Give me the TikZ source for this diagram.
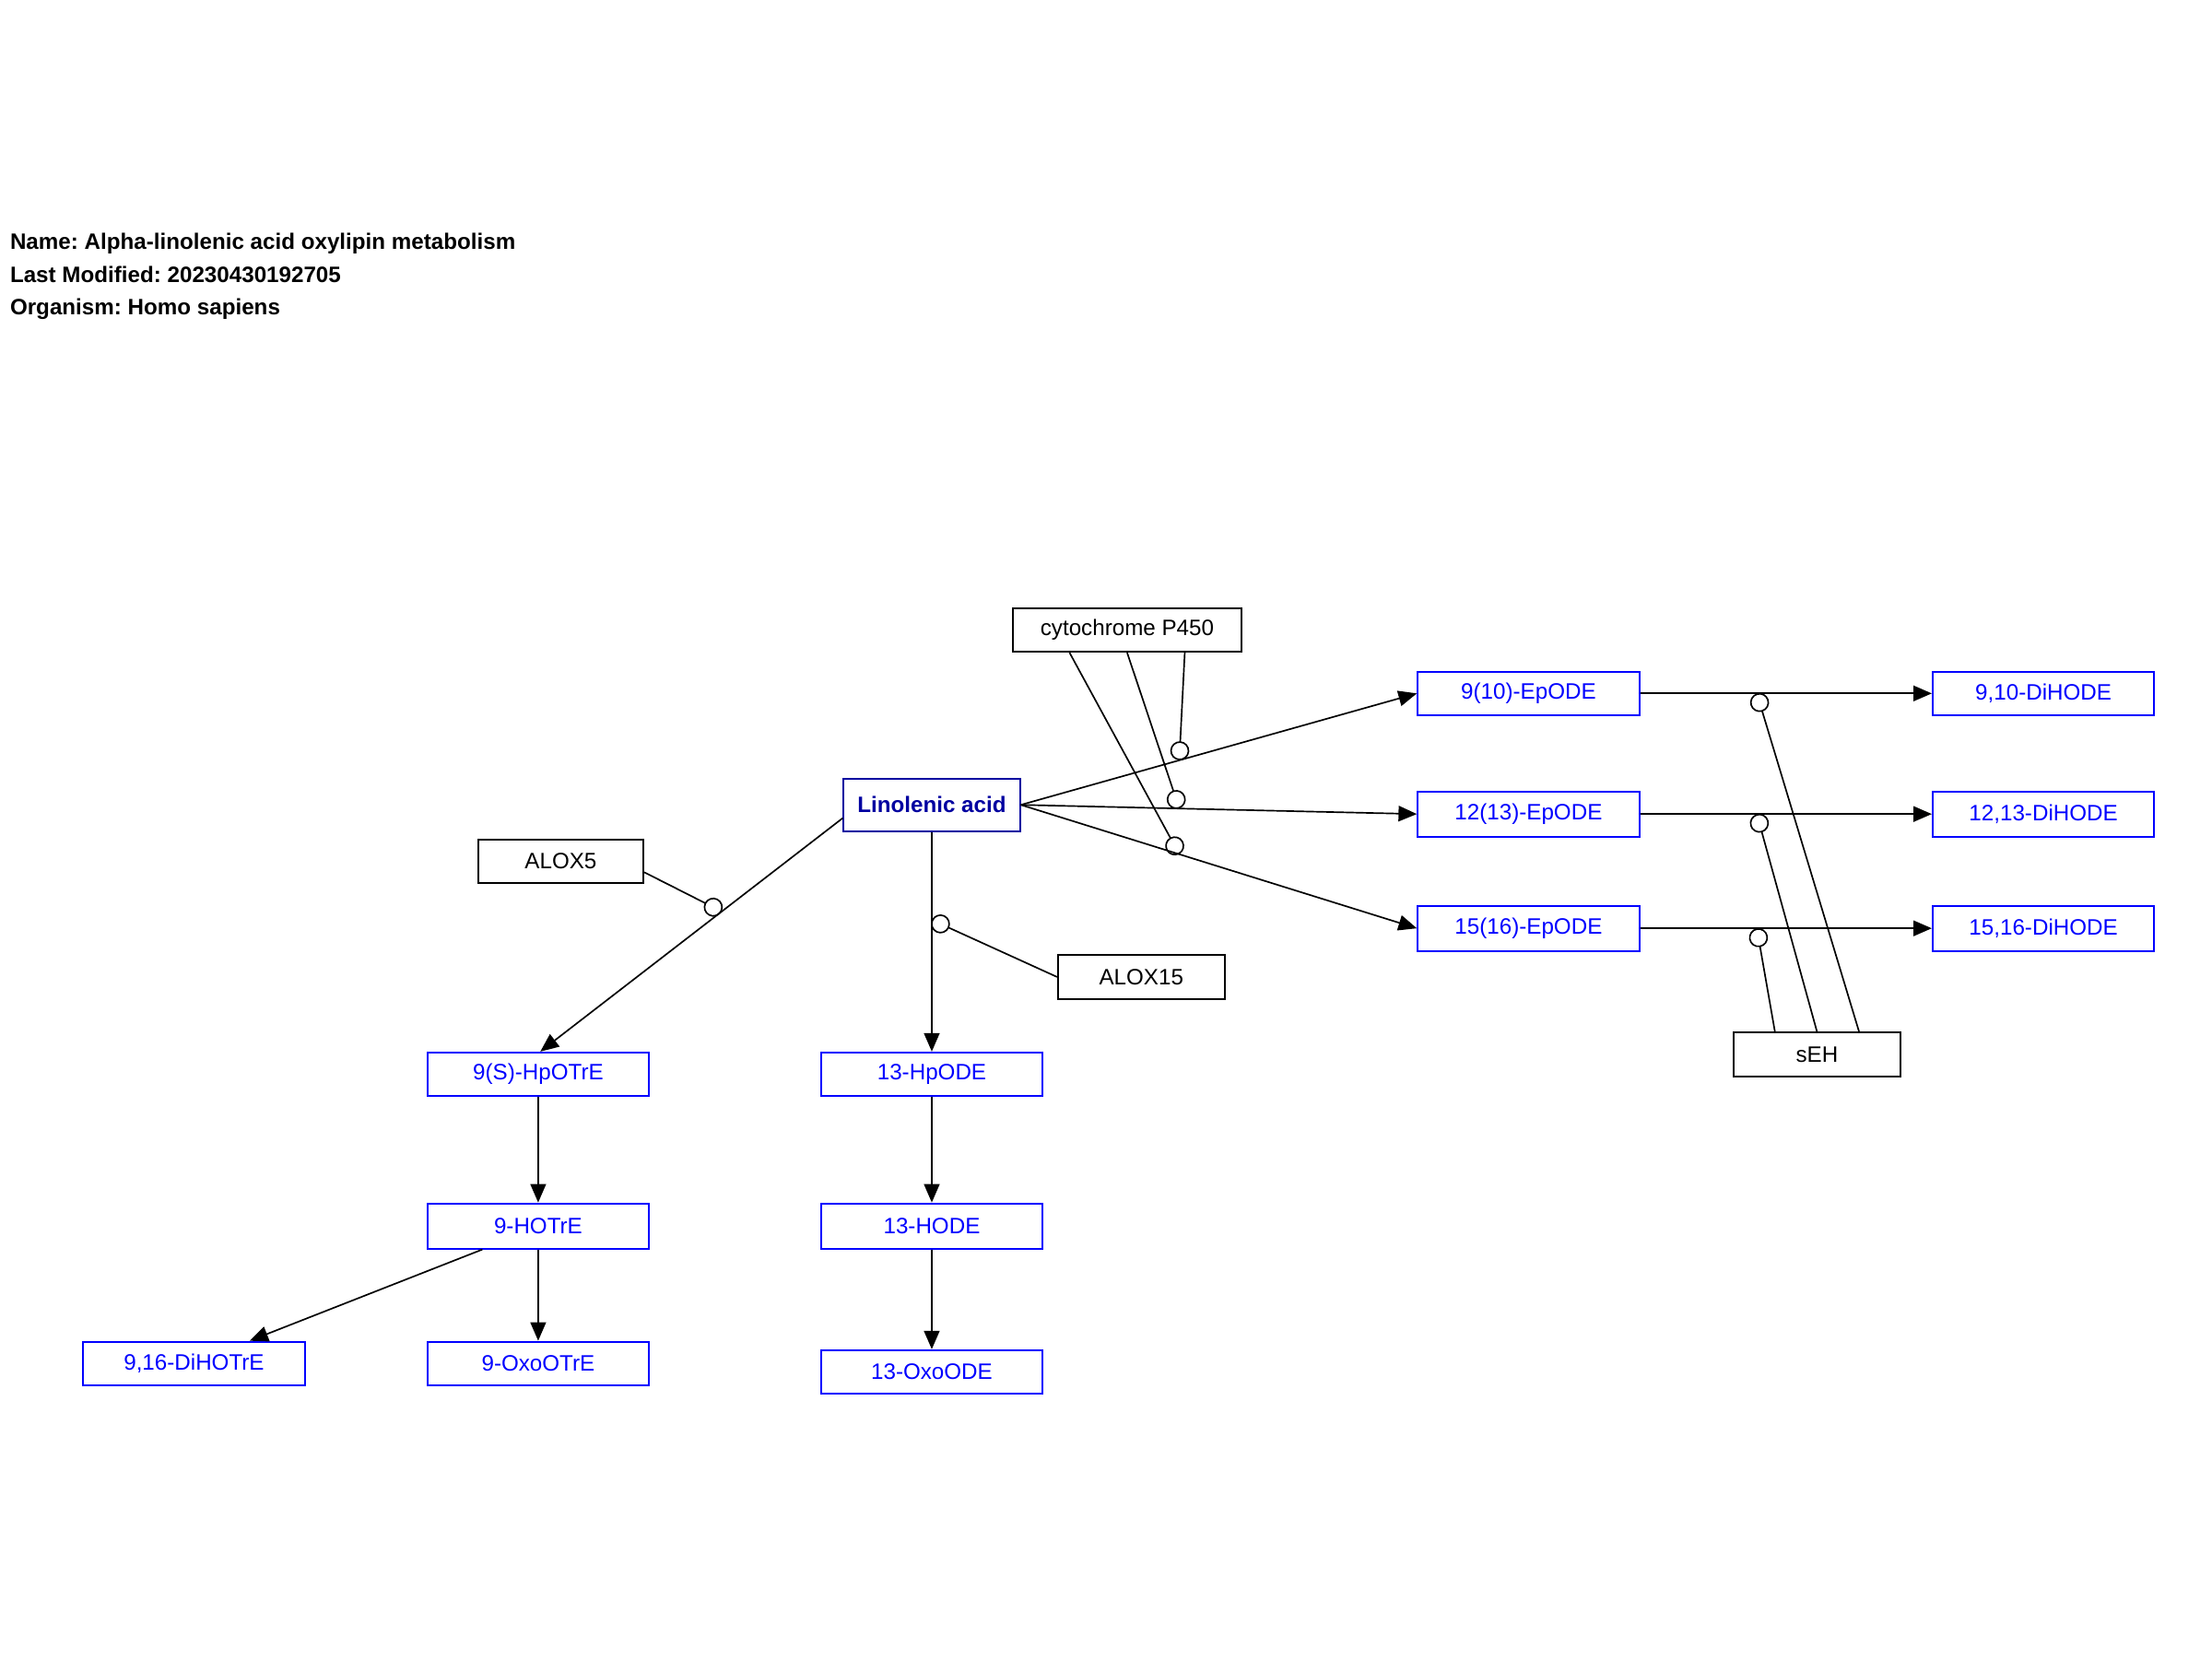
\documentclass[tikz,border=0pt]{standalone}
\usepackage{fontspec}
\setmainfont{Liberation Sans}
\usetikzlibrary{arrows.meta,calc}
\definecolor{mblue}{RGB}{0,0,255}
\definecolor{dblue}{RGB}{0,0,160}
\frenchspacing
\begin{document}
\begin{tikzpicture}[x=1pt,y=-1pt,
  box/.style={draw,line width=1.3pt,minimum width=157pt,minimum height=31pt,inner sep=0pt,
    font=\fontsize{15.8}{18}\selectfont},
  metab/.style={box,draw=mblue,text=mblue},
  gene/.style={box,draw=black,text=black,minimum width=117pt},
  conv/.style={line width=1.1pt,-{Triangle[length=13pt,width=11pt]}},
  cat/.style={line width=1.1pt,-{Circle[open,length=13.5pt,width=13.5pt]}},
  info/.style={anchor=base west,inner sep=0pt,font=\fontsize{15.8}{18}\selectfont\bfseries}]
\useasboundingbox (0,0) rectangle (1568,1176);
% header
\node[info] (t1) at (7,176.8) {Name: Alpha-linolenic acid oxylipin metabolism};
\node[info] (t2) at (7,200) {Last Modified: 20230430192705};
\node[info] (t3) at (7,223.2) {Organism: Homo sapiens};
% nodes
\node[gene,minimum width=162pt] (cyp) at (799,446.5) {cytochrome P450};
\node[metab] (ep9) at (1083.5,491.5) {9(10)-EpODE};
\node[metab] (di9) at (1448.5,491.5) {9,10-DiHODE};
\node[box,draw=dblue,text=dblue,minimum width=125pt,minimum height=37.5pt,font=\fontsize{15.8}{18}\selectfont\bfseries] (lin) at (660.5,570.5) {Linolenic acid};
\node[metab,minimum height=32pt] (ep12) at (1083.5,577) {12(13)-EpODE};
\node[metab,minimum height=32pt] (di12) at (1448.5,577) {12,13-DiHODE};
\node[gene] (alox5) at (397.5,610.5) {ALOX5};
\node[metab,minimum height=32pt] (ep15) at (1083.5,658) {15(16)-EpODE};
\node[metab,minimum height=32pt] (di15) at (1448.5,658) {15,16-DiHODE};
\node[gene,minimum width=118pt] (alox15) at (809,692.5) {ALOX15};
\node[gene,minimum width=118pt] (seh) at (1288,747.5) {sEH};
\node[metab] (hpotre) at (381.5,761.5) {9(S)-HpOTrE};
\node[metab] (hpode) at (660.5,761.5) {13-HpODE};
\node[metab,minimum height=32pt] (hotre) at (381.5,869) {9-HOTrE};
\node[metab,minimum height=32pt] (hode) at (660.5,869) {13-HODE};
\node[metab] (dihotre) at (137.5,966.5) {9,16-DiHOTrE};
\node[metab] (oxootre) at (381.5,966.5) {9-OxoOTrE};
\node[metab] (oxoode) at (660.5,972.5) {13-OxoODE};
% conversions
\draw[conv] (lin.east) -- (ep9.west) coordinate[pos=0.4] (c9);
\draw[conv] (lin.east) -- (ep12.west) coordinate[pos=0.4] (c12);
\draw[conv] (lin.east) -- (ep15.west) coordinate[pos=0.4] (c15);
\draw[conv] ([yshift=-9.4pt]lin.west) -- ([xshift=1.5pt]hpotre.north) coordinate[pos=0.4] (c5);
\draw[conv] (lin.south) -- (hpode.north) coordinate[pos=0.4] (c1515);
\draw[conv] (hpotre.south) -- (hotre.north);
\draw[conv] (hpode.south) -- (hode.north);
\draw[conv] ($(hotre.south west)!0.25!(hotre.south east)$) -- ($(dihotre.north west)!0.75!(dihotre.north east)$);
\draw[conv] (hotre.south) -- (oxootre.north);
\draw[conv] (hode.south) -- (oxoode.north);
\draw[conv] (ep9.east) -- (di9.west) coordinate[pos=0.4] (s9);
\draw[conv] (ep12.east) -- (di12.west) coordinate[pos=0.4] (s12);
\draw[conv] (ep15.east) -- (di15.west) coordinate[pos=0.4] (s15);
% catalysis
\draw[cat] ($(cyp.south west)!0.25!(cyp.south east)$) -- (c15);
\draw[cat] (cyp.south) -- (c12);
\draw[cat] ($(cyp.south west)!0.75!(cyp.south east)$) -- (c9);
\draw[cat] ([yshift=-7.75pt]alox5.east) -- (c5);
\draw[cat] (alox15.west) -- (c1515);
\draw[cat] ($(seh.north west)!0.25!(seh.north east)$) -- (s15);
\draw[cat] (seh.north) -- (s12);
\draw[cat] ($(seh.north west)!0.75!(seh.north east)$) -- (s9);
\end{tikzpicture}
\end{document}
